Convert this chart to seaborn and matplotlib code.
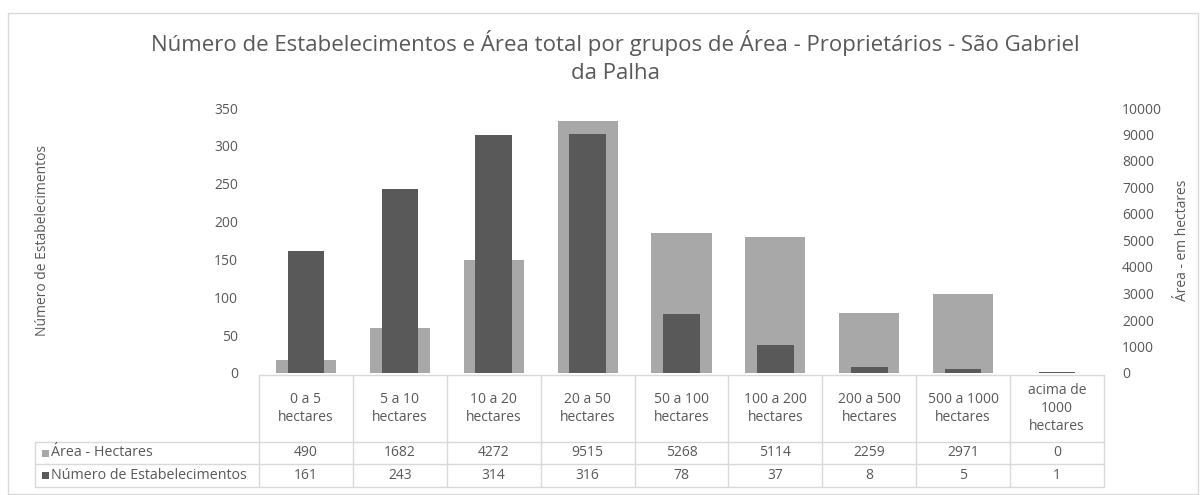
import numpy as np
import pandas as pd
import matplotlib
matplotlib.use('Agg')
import matplotlib.pyplot as plt
import matplotlib.transforms as mtransforms
from matplotlib.lines import Line2D
from matplotlib.patches import Rectangle
import seaborn as sns

# data
categorias = ['0 a 5\nhectares', '5 a 10\nhectares', '10 a 20\nhectares', '20 a 50\nhectares',
              '50 a 100\nhectares', '100 a 200\nhectares', '200 a 500\nhectares',
              '500 a 1000\nhectares', 'acima de\n1000\nhectares']
area_hectares = [490, 1682, 4272, 9515, 5268, 5114, 2259, 2971, 0]
num_estab = [161, 243, 314, 316, 78, 37, 8, 5, 1]

titulo = ('Número de Estabelecimentos e Área total por grupos de Área - Proprietários - São Gabriel\n'
          'da Palha')

sns.set_style('white')
plt.rcParams['font.family'] = ['Open Sans', 'DejaVu Sans']

claro = '#a8a8a8'
escuro = '#595959'
texto = '#595959'
linha = '#d9d9d9'

W, H = 1200, 495
fig = plt.figure(figsize=(W / 100, H / 100), dpi=100)

def fy(py):
    return 1 - py / H

# plot area
ax = fig.add_axes([259 / W, fy(373), 845 / W, 265 / H])
ax2 = ax.twinx()

df = pd.DataFrame({'cat': categorias, 'area': area_hectares, 'num': num_estab})

sns.barplot(data=df, x='cat', y='area', ax=ax2, color=claro, saturation=1, width=0.64,
            linewidth=0)
sns.barplot(data=df, x='cat', y='num', ax=ax, color=escuro, saturation=1, width=0.39,
            linewidth=0)

ax.set_zorder(2)
ax2.set_zorder(1)
ax.patch.set_visible(False)

ax.set_xlim(-0.5, len(categorias) - 0.5)
ax.set_ylim(0, 350)
ax2.set_ylim(0, 10000)
ax.set_yticks(range(0, 351, 50))
ax2.set_yticks(range(0, 10001, 1000))
for a in (ax, ax2):
    a.set_xlabel('')
    a.set_ylabel('')
    for s in a.spines.values():
        s.set_visible(False)
    a.tick_params(axis='both', length=0, labelsize=10, labelcolor=texto)
    a.tick_params(axis='x', labelbottom=False)
ax.tick_params(axis='y', pad=15)
ax2.tick_params(axis='y', pad=13)

# axis titles
fig.text(43 / W, fy(240), 'Número de Estabelecimentos', rotation=90, ha='center', va='center',
         fontsize=10, color=texto)
fig.text(1182 / W, fy(240), 'Área - em hectares', rotation=90, ha='center', va='center',
         fontsize=10, color=texto)

# title
fig.text(0.513, fy(57), titulo, ha='center', va='center', fontsize=16, color=texto,
         linespacing=1.4)

# data table below the plot
tr = mtransforms.blended_transform_factory(ax.transData, fig.transFigure)
n = len(categorias)
y_top, y_r1, y_r2, y_bot = 375, 442, 464, 487
for i in range(n + 1):
    fig.add_artist(Line2D([i - 0.5, i - 0.5], [fy(y_top), fy(y_bot)], transform=tr,
                          color=linha, lw=1))
fig.add_artist(Line2D([-0.5, n - 0.5], [fy(y_top), fy(y_top)], transform=tr, color=linha, lw=1))
for yy in (y_r1, y_r2, y_bot):
    fig.add_artist(Line2D([35 / W, 1104 / W], [fy(yy), fy(yy)], transform=fig.transFigure,
                          color=linha, lw=1))
fig.add_artist(Line2D([35 / W, 35 / W], [fy(y_r1), fy(y_bot)], transform=fig.transFigure,
                      color=linha, lw=1))

for i, c in enumerate(categorias):
    ax.text(i, fy((y_top + y_r1) / 2), c, transform=tr, ha='center', va='center',
            fontsize=10, color=texto, linespacing=1.3)
    ax.text(i, fy((y_r1 + y_r2) / 2), str(area_hectares[i]), transform=tr, ha='center',
            va='center', fontsize=10, color=texto)
    ax.text(i, fy((y_r2 + y_bot) / 2), str(num_estab[i]), transform=tr, ha='center',
            va='center', fontsize=10, color=texto)

# row labels with legend keys
for (yc, nome, cor) in [((y_r1 + y_r2) / 2, 'Área - Hectares', claro),
                        ((y_r2 + y_bot) / 2, 'Número de Estabelecimentos', escuro)]:
    fig.add_artist(Rectangle((42 / W, fy(yc + 3.5)), 7 / W, 7 / H, transform=fig.transFigure,
                             facecolor=cor, edgecolor='none'))
    fig.text(51 / W, fy(yc), nome, ha='left', va='center', fontsize=10.3, color=texto)

# chart border
fig.add_artist(Rectangle((7.5 / W, fy(494)), 1190 / W, (494 - 12.5) / H,
                         transform=fig.transFigure, fill=False, edgecolor=linha, lw=1))

fig.savefig('out.png', dpi=100)
